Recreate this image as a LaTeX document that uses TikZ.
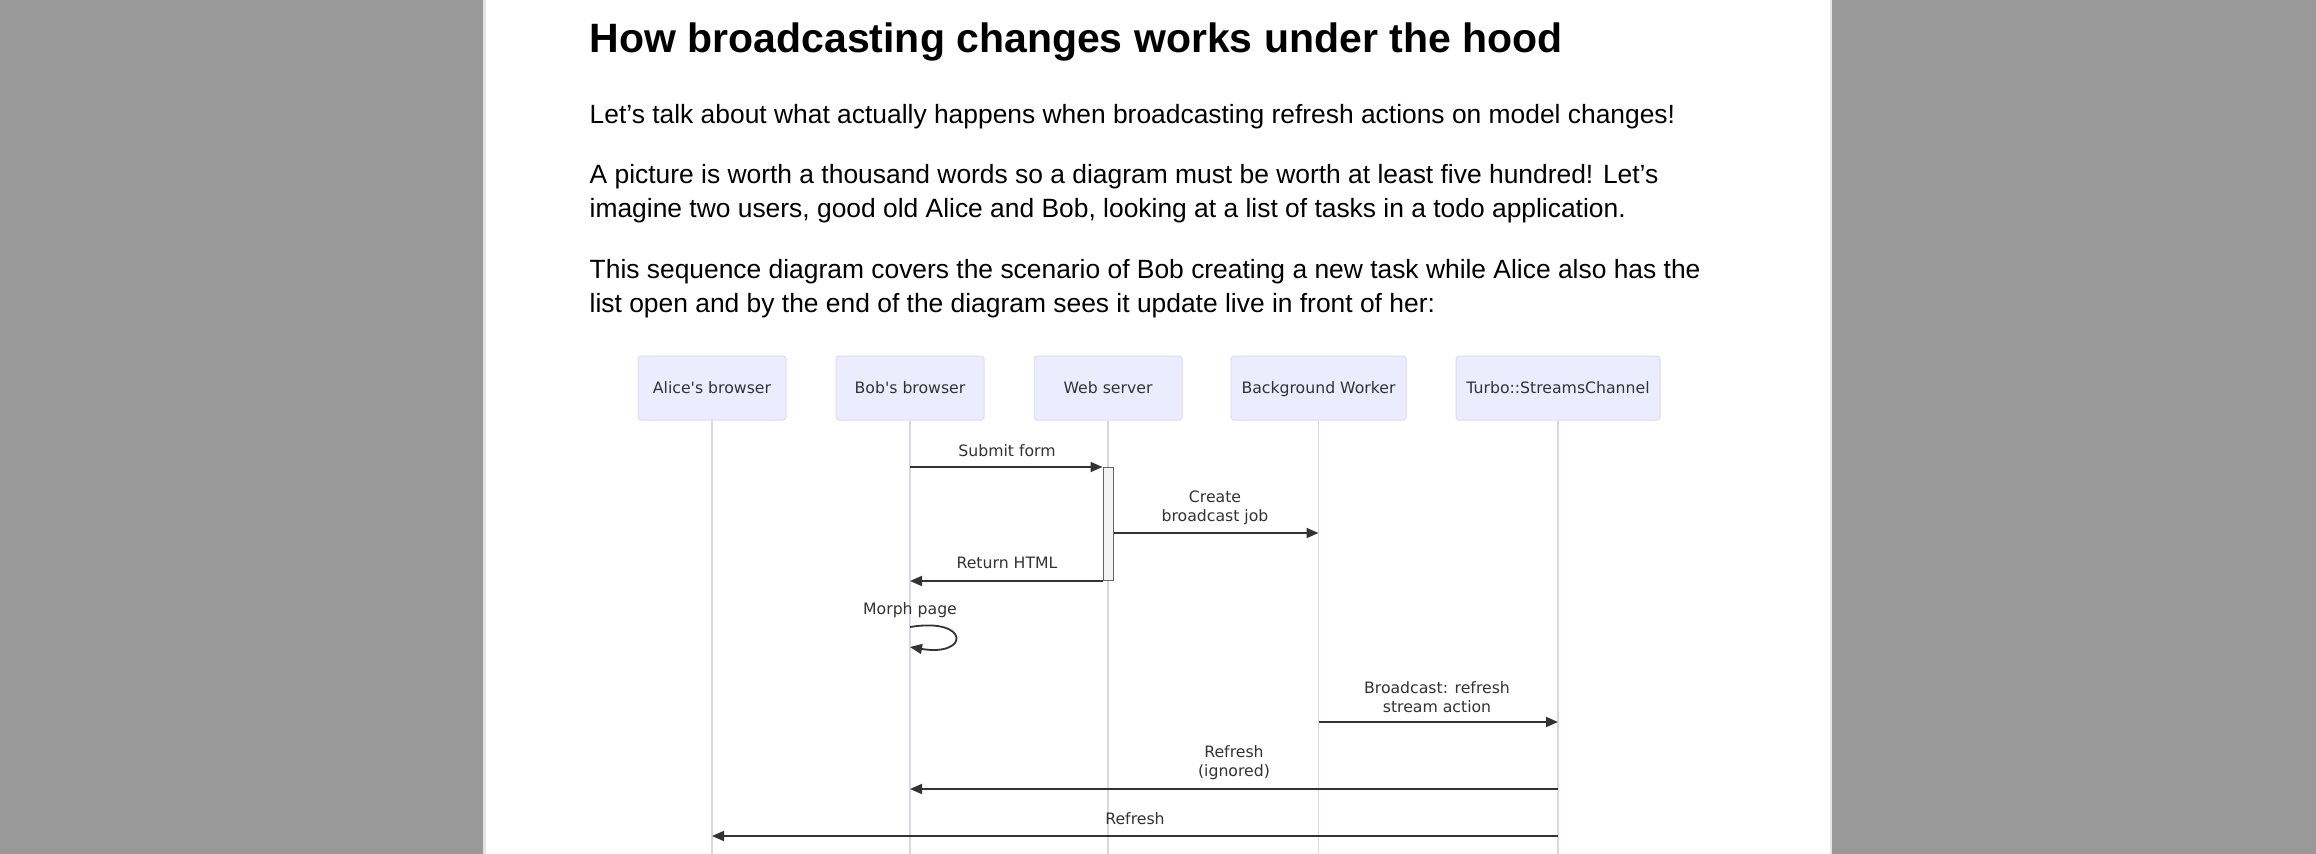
\documentclass[tikz,border=0pt]{standalone}
\usepackage{fontspec}
\setmainfont{Liberation Sans}
\newfontfamily\dvsans{DejaVu Sans}
\usetikzlibrary{arrows.meta,calc}
\definecolor{bggray}{HTML}{999999}
\definecolor{pageedge}{HTML}{E4E4E4}
\definecolor{actfill}{HTML}{ECECFF}
\definecolor{actborder}{HTML}{E0DAF7}
\definecolor{actline}{HTML}{D9D3F5}
\definecolor{msgcol}{HTML}{333333}
\definecolor{actvfill}{HTML}{F4F4F4}
\definecolor{actvline}{HTML}{666666}
\begin{document}
\begin{tikzpicture}[x=1pt,y=-1pt,
  titletext/.style={anchor=base west,inner sep=0pt,font=\bfseries\fontsize{41}{48}\selectfont},
  bodytext/.style={anchor=base west,inner sep=0pt,font=\fontsize{26.4}{34}\selectfont},
  actorbox/.style={draw=actborder,fill=actfill,rounded corners=3pt,line width=1pt,minimum height=64pt,inner sep=0pt,text height=11.5pt,text depth=0pt,font=\dvsans\fontsize{15.7}{19}\selectfont,text=msgcol},
  lifeline/.style={draw=actline,line width=1.5pt},
  msgline/.style={draw=msgcol,line width=1.8pt,-{Triangle[length=12pt,width=10pt]}},
  msglabel/.style={font=\dvsans\fontsize{15.7}{19}\selectfont,text=msgcol,align=center,inner sep=0pt},
  activation/.style={draw=actvline,fill=actvfill,line width=1pt,inner sep=0pt}]
\useasboundingbox (0,0) rectangle (2316,854);
\fill[bggray] (0,0) rectangle (2316,854);
\fill[pageedge] (483,0) rectangle (1832,854);
\fill[white] (485.5,0) rectangle (1829.5,854);

\node[titletext] (title) at (589.5,52) {How broadcasting changes works under the hood};
\node[bodytext] (p1) at (589.5,123) {Let’s talk about what actually happens when broadcasting refresh actions on model changes!};
\node[bodytext] (p2a) at (589.5,183) {A picture is worth a thousand words so a diagram must be worth at least five hundred! Let’s};
\node[bodytext] (p2b) at (589.5,217) {imagine two users, good old Alice and Bob, looking at a list of tasks in a todo application.};
\node[bodytext] (p3a) at (589.5,278) {This sequence diagram covers the scenario of Bob creating a new task while Alice also has the};
\node[bodytext] (p3b) at (589.5,312) {list open and by the end of the diagram sees it update live in front of her:};

\node[actorbox,minimum width=148pt] (alice) at (712,388) {Alice's browser};
\node[actorbox,minimum width=148pt] (bob) at (910,388) {Bob's browser};
\node[actorbox,minimum width=148pt] (web) at (1108,388) {Web server};
\node[actorbox,minimum width=175pt] (bg) at (1318.5,388) {Background Worker};
\node[actorbox,minimum width=204pt] (turbo) at (1558,388) {Turbo::StreamsChannel};

\foreach \a in {alice,bob,web,bg,turbo}{
  \coordinate (\a-end) at (\a.south |- 0,860);
  \draw[lifeline] (\a.south) -- (\a-end);
}

\node[activation,minimum width=10pt,minimum height=113pt,anchor=north] (act) at (1108,467) {};

\node[msglabel] (l1) at (1007,450.5) {Submit form};
\draw[msgline] (bob |- act.north) -- (act.north west);

\node[msglabel] (l2) at (1215,507.5) {Create\\broadcast job};
\draw[msgline] (act.east |- 0,533) -- (bg |- 0,533);

\node[msglabel] (l3) at (1007,562.5) {Return HTML};
\draw[msgline] (act.south west) -- (bob |- act.south);

\node[msglabel] (l4) at (910,610) {Morph page};
\coordinate (loopa) at (bob |- 0,627);
\coordinate (loopb) at (bob |- 0,647);
\draw[msgline] (loopa) .. controls +(60,-10) and +(60,10) .. (loopb);

\node[msglabel] (l5) at (1437,697.5) {Broadcast: refresh\\stream action};
\draw[msgline] (bg |- 0,722) -- (turbo |- 0,722);

\node[msglabel] (l6) at (1234,763) {Refresh\\(ignored)};
\draw[msgline] (turbo |- 0,789) -- (bob |- 0,789);

\node[msglabel] (l7) at (1135,818.5) {Refresh};
\draw[msgline] (turbo |- 0,836) -- (alice |- 0,836);
\end{tikzpicture}
\end{document}
